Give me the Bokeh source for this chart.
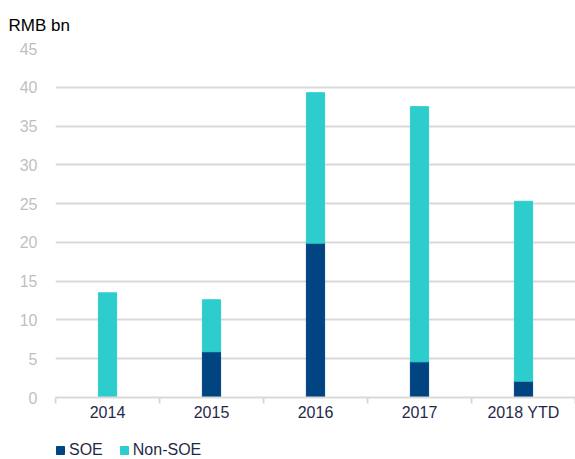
from bokeh.plotting import figure
from bokeh.layouts import column
from bokeh.models import ColumnDataSource, FixedTicker, Legend, LegendItem, Range1d
from bokeh.embed import file_html
from bokeh.resources import INLINE

categories = ["2014", "2015", "2016", "2017", "2018 YTD"]
soe = [0.0, 5.9, 19.9, 4.6, 2.1]
non_soe = [13.5, 6.7, 19.4, 32.9, 23.2]
y_ticks = [0, 5, 10, 15, 20, 25, 30, 35, 40, 45]
series_names = ["SOE", "Non-SOE"]
series_colors = ["#004481", "#2ecdcd"]

xs = list(range(1, len(categories) + 1))
total = [a + b for a, b in zip(soe, non_soe)]
src = ColumnDataSource(dict(x=xs, soe=soe, non=non_soe, total=total))

FONT = "Liberation Sans"
p = figure(width=575, height=430, output_backend="svg", toolbar_location=None,
           x_range=Range1d(0.5, len(categories) + 0.5), y_range=Range1d(0, 45),
           min_border_left=55, min_border_right=0, min_border_top=47, min_border_bottom=33,
           outline_line_color=None)

p.vbar(x="x", bottom=0, top="soe", width=0.175, source=src, color=series_colors[0])
p.vbar(x="x", bottom="soe", top="total", width=0.175, source=src, color=series_colors[1])

p.title.text = "RMB bn"
p.title.text_font = FONT
p.title.text_font_size = "17px"
p.title.text_font_style = "normal"
p.title.text_color = "#000000"
p.title.align = "left"
p.title.offset = -47
p.title.standoff = 27

# y axis
p.yaxis.ticker = FixedTicker(ticks=y_ticks)
p.yaxis.axis_line_color = None
p.yaxis.major_tick_line_color = None
p.yaxis.major_tick_out = 0
p.yaxis.minor_tick_line_color = None
p.yaxis.major_label_text_font = FONT
p.yaxis.major_label_text_font_size = "16px"
p.yaxis.major_label_text_color = "#bfbfbf"
p.yaxis.major_label_standoff = 18

p.ygrid.ticker = FixedTicker(ticks=y_ticks)
p.ygrid.grid_line_color = "#d9d9d9"
p.ygrid.grid_line_width = 2
p.xgrid.grid_line_color = None

# x axis: labels at centers, ticks at boundaries
bounds = [i + 0.5 for i in range(0, len(categories) + 1)]
p.xaxis.ticker = FixedTicker(ticks=xs, minor_ticks=bounds)
p.xaxis.major_label_overrides = {x: c for x, c in zip(xs, categories)}
p.xaxis.major_tick_line_color = None
p.xaxis.major_tick_out = 0
p.xaxis.major_tick_in = 0
p.xaxis.minor_tick_line_color = "#d9d9d9"
p.xaxis.minor_tick_line_width = 2
p.xaxis.minor_tick_out = 6
p.xaxis.minor_tick_in = 0
p.xaxis.axis_line_color = "#d9d9d9"
p.xaxis.axis_line_width = 2
p.xaxis.major_label_text_font = FONT
p.xaxis.major_label_text_font_size = "16px"
p.xaxis.major_label_text_color = "#1f2a48"
p.xaxis.major_label_standoff = 0

# legend strip below the chart
lf = figure(width=575, height=29, output_backend="svg", toolbar_location=None,
            x_range=Range1d(0, 1), y_range=Range1d(0, 1), min_border=0,
            outline_line_color=None, x_axis_location=None, y_axis_location=None)
lf.grid.visible = False
nan = float("nan")
items = []
for name, col in zip(series_names, series_colors):
    r = lf.quad(left=[nan], right=[nan], top=[nan], bottom=[nan],
                fill_color=col, line_color=col)
    items.append(LegendItem(label=name, renderers=[r]))

legend = Legend(items=items, orientation="horizontal", location=(0, 0),
                label_text_font=FONT, label_text_font_size="16px",
                label_text_color="#1f2a48", glyph_width=10, glyph_height=10,
                label_standoff=4, spacing=16, padding=0, margin=0,
                border_line_color=None, background_fill_alpha=0)
lf.add_layout(legend, "center")

layout = column(p, lf, spacing=0)
open("out.html", "w").write(file_html(layout, INLINE))
